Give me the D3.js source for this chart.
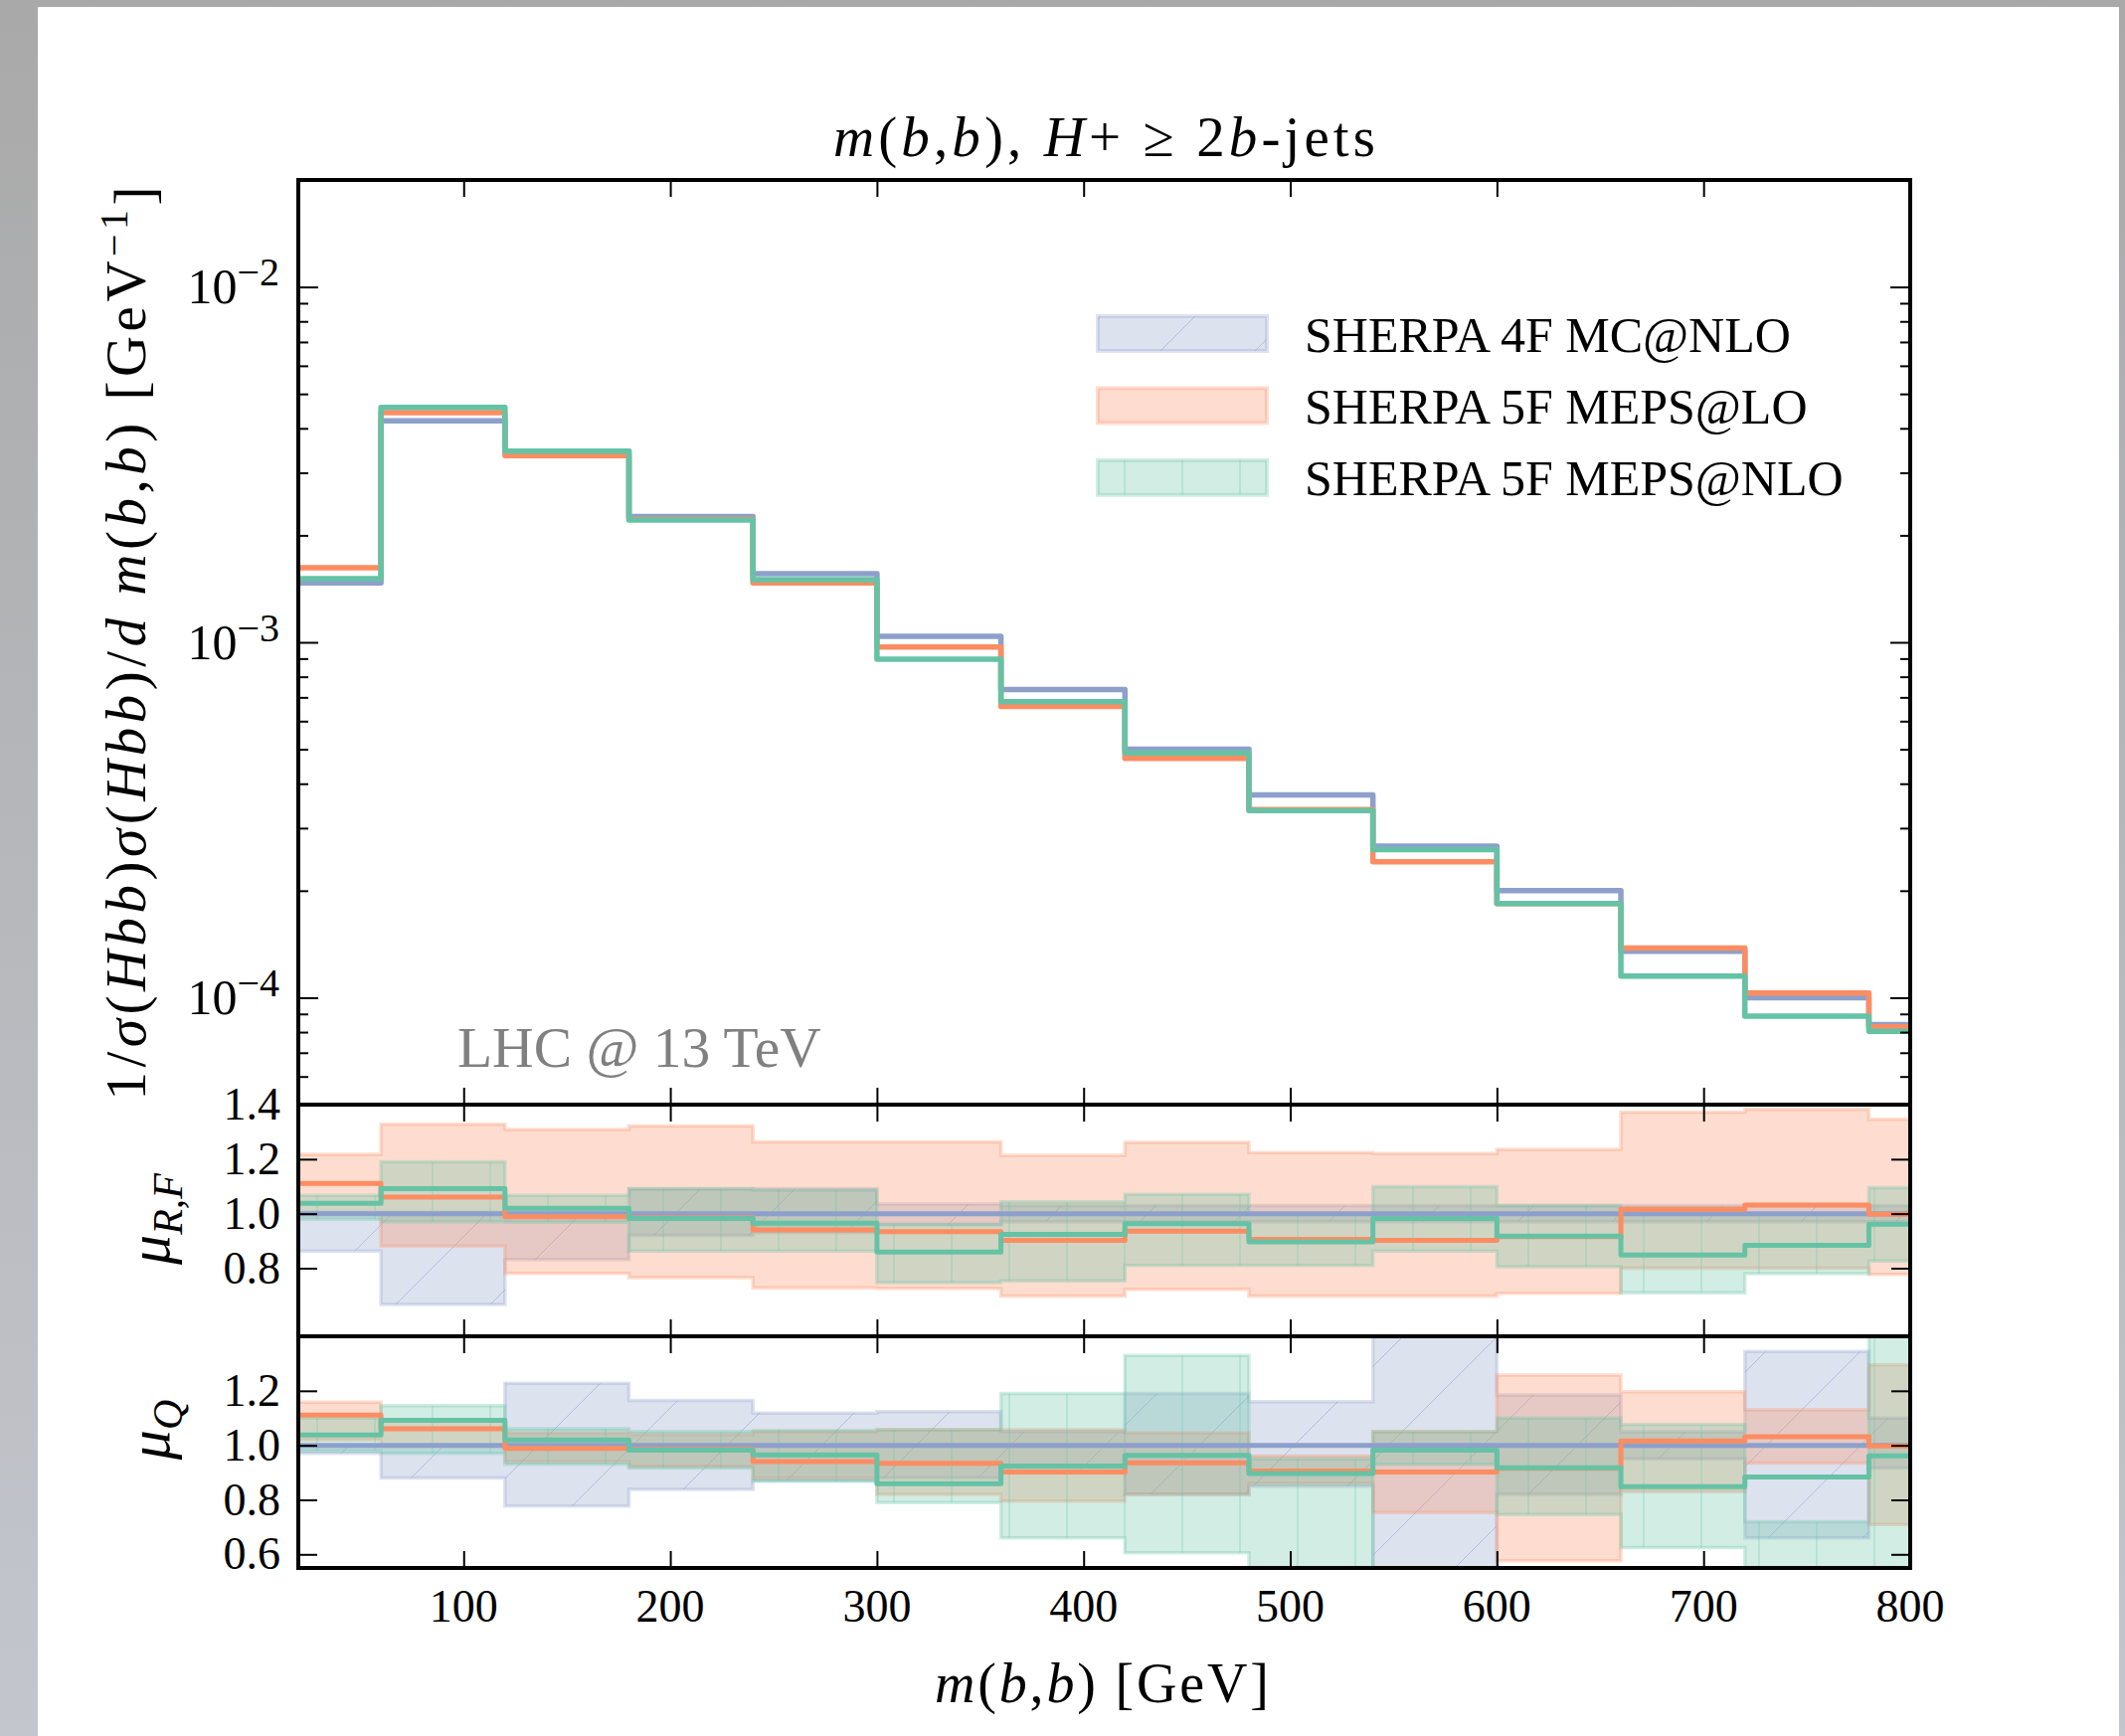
<!DOCTYPE html>
<html>
<head>
<meta charset="utf-8">
<script src="https://cdnjs.cloudflare.com/ajax/libs/d3/7.8.5/d3.min.js"></script>
<style>
  body { margin: 0; background: #fff; }
  svg { display: block; }
  text { font-family: "Liberation Serif", "DejaVu Serif", serif; fill: #000; }
</style>
</head>
<body>
<svg id="chart" width="2137" height="1746"></svg>
<script>
// bin edges of the m(b,b) histogram [GeV]
const binEdges = [20, 60, 120, 180, 240, 300, 360, 420, 480, 540, 600, 660, 720, 780, 800];
const xTicks = [100, 200, 300, 400, 500, 600, 700, 800];

const seriesNames = ["SHERPA 4F MC@NLO", "SHERPA 5F MEPS@LO", "SHERPA 5F MEPS@NLO"];
const seriesColors = ["#8da0cb", "#fc8d62", "#66c2a5"];

// main panel: normalised distribution
const main4F = [1.47e-3, 4.2e-3, 3.45e-3, 2.26e-3, 1.56e-3, 1.04e-3, 7.36e-4, 5.0e-4, 3.72e-4, 2.67e-4, 2.0e-4, 1.35e-4, 1.0e-4, 8.4e-5];
const main5FLO = [1.62e-3, 4.43e-3, 3.35e-3, 2.22e-3, 1.47e-3, 9.7e-4, 6.6e-4, 4.71e-4, 3.38e-4, 2.41e-4, 1.84e-4, 1.38e-4, 1.03e-4, 8.28e-5];
const main5FNLO = [1.51e-3, 4.58e-3, 3.45e-3, 2.21e-3, 1.50e-3, 8.96e-4, 6.81e-4, 4.88e-4, 3.36e-4, 2.61e-4, 1.84e-4, 1.15e-4, 8.87e-5, 8.04e-5];

// ratio to 4F MC@NLO (central values)
const ratio4F = [1, 1, 1, 1, 1, 1, 1, 1, 1, 1, 1, 1, 1, 1];
const ratio5FLO = [1.111, 1.061, 0.989, 0.985, 0.94, 0.934, 0.902, 0.936, 0.906, 0.902, 0.916, 1.016, 1.032, 0.998];
const ratio5FNLO = [1.038, 1.092, 1.02, 0.982, 0.965, 0.859, 0.924, 0.963, 0.897, 0.982, 0.918, 0.848, 0.884, 0.961];

// mu_R,F variation bands
const muRF4FLo = [0.863, 0.667, 0.832, 0.92, 0.93, 0.96, 0.97, 0.97, 0.97, 0.97, 0.97, 0.97, 0.97, 0.97];
const muRF4FHi = [1.005, 1.005, 1.005, 1.09, 1.092, 1.035, 1.03, 1.03, 1.03, 1.03, 1.03, 1.03, 1.03, 1.03];
const muRFLOLo = [1.0, 0.881, 0.781, 0.765, 0.728, 0.725, 0.698, 0.722, 0.698, 0.698, 0.708, 0.80, 0.80, 0.777];
const muRFLOHi = [1.218, 1.328, 1.309, 1.322, 1.263, 1.263, 1.214, 1.261, 1.224, 1.220, 1.236, 1.372, 1.383, 1.346];
const muRFNLOLo = [0.98, 0.97, 0.969, 0.863, 0.863, 0.747, 0.753, 0.81, 0.81, 0.863, 0.805, 0.71, 0.78, 0.826];
const muRFNLOHi = [1.067, 1.19, 1.067, 1.092, 1.086, 0.96, 1.043, 1.071, 1.0, 1.099, 1.03, 1.02, 1.0, 1.095];

// mu_Q variation bands
const muQ4FLo = [0.97, 0.88, 0.777, 0.838, 0.87, 0.88, 0.9, 0.82, 0.85, 0.5, 0.82, 0.95, 0.66, 0.917];
const muQ4FHi = [1.0, 1.0, 1.228, 1.165, 1.118, 1.124, 1.05, 1.19, 1.16, 1.5, 1.185, 1.05, 1.344, 1.1];
const muQLOLo = [1.02, 1.0, 0.94, 0.923, 0.88, 0.82, 0.795, 0.82, 0.86, 0.753, 0.576, 0.83, 0.935, 0.71];
const muQLOHi = [1.158, 1.09, 1.045, 1.04, 1.05, 1.057, 1.057, 1.045, 0.96, 1.051, 1.258, 1.197, 1.13, 1.295];
const muQNLOLo = [0.98, 0.97, 0.93, 0.917, 0.868, 0.79, 0.66, 0.606, 0.5, 0.93, 0.746, 0.625, 0.5, 0.5];
const muQNLOHi = [1.10, 1.146, 1.061, 1.051, 1.054, 1.057, 1.19, 1.33, 0.95, 1.05, 1.10, 1.076, 0.72, 1.45];

const svg = d3.select("#chart");

// page background (viewer frame)
const defs = svg.append("defs");
const bgGrad = defs.append("linearGradient").attr("id", "side").attr("x1", 0).attr("y1", 0).attr("x2", 0).attr("y2", 1);
bgGrad.append("stop").attr("offset", 0).attr("stop-color", "#a9a9a9");
bgGrad.append("stop").attr("offset", 1).attr("stop-color", "#c3c6cd");
svg.append("rect").attr("width", 2137).attr("height", 1746).attr("fill", "url(#side)");
svg.append("rect").attr("x", 38).attr("y", 7).attr("width", 2131 - 38).attr("height", 1746 - 7).attr("fill", "#fff");

// hatch patterns
defs.append("pattern").attr("id", "hatch-blue").attr("patternUnits", "userSpaceOnUse")
  .attr("width", 95).attr("height", 95)
  .append("path").attr("d", "M0,95 L95,0 M-10,10 L10,-10 M85,105 L105,85")
  .attr("stroke", "#8da0cb").attr("stroke-opacity", 0.55).attr("stroke-width", 1);
defs.append("pattern").attr("id", "hatch-green").attr("patternUnits", "userSpaceOnUse")
  .attr("width", 58).attr("height", 58)
  .append("path").attr("d", "M29,0 L29,58")
  .attr("stroke", "#66c2a5").attr("stroke-opacity", 0.5).attr("stroke-width", 1);
const hatches = ["url(#hatch-blue)", null, "url(#hatch-green)"];

const left = 300, right = 1921;
const x = d3.scaleLinear().domain([20, 800]).range([left, right]);
const yMain = d3.scaleLog().domain([5e-5, 2e-2]).range([1111, 181]);
const yR1 = d3.scaleLinear().domain([0.55, 1.4]).range([1344, 1111]);
const yR2 = d3.scaleLinear().domain([0.55, 1.4]).range([1577, 1344]);

const panels = [
  { id: "main", y: yMain, top: 181, bottom: 1111 },
  { id: "r1", y: yR1, top: 1111, bottom: 1344 },
  { id: "r2", y: yR2, top: 1344, bottom: 1577 }
];

panels.forEach(p => {
  defs.append("clipPath").attr("id", "clip-" + p.id)
    .append("rect").attr("x", left).attr("y", p.top)
    .attr("width", right - left).attr("height", p.bottom - p.top);
});

// step helpers
const stepPoints = vals => vals.map((v, i) => [binEdges[i], v]).concat([[binEdges[binEdges.length - 1], vals[vals.length - 1]]]);
const bandPoints = (lo, hi) => lo.map((v, i) => [binEdges[i], v, hi[i]]).concat([[binEdges[binEdges.length - 1], lo[lo.length - 1], hi[hi.length - 1]]]);

function drawLines(g, y, list, width) {
  const line = d3.line().x(d => x(d[0])).y(d => y(d[1])).curve(d3.curveStepAfter);
  list.forEach((vals, i) => {
    g.append("path")
      .attr("d", line(stepPoints(vals)))
      .attr("fill", "none")
      .attr("stroke", seriesColors[i])
      .attr("stroke-width", width)
      .attr("stroke-linejoin", "round");
  });
}

function drawBands(g, y, bands) {
  const area = d3.area().x(d => x(d[0])).y0(d => y(d[1])).y1(d => y(d[2])).curve(d3.curveStepAfter);
  bands.forEach((b, i) => {
    const d = area(bandPoints(b[0], b[1]));
    g.append("path").attr("d", d)
      .attr("fill", seriesColors[i]).attr("fill-opacity", 0.3)
      .attr("stroke", seriesColors[i]).attr("stroke-opacity", 0.3).attr("stroke-width", 3.5);
    if (hatches[i]) g.append("path").attr("d", d).attr("fill", hatches[i]);
  });
}

// main panel
const gMain = svg.append("g").attr("clip-path", "url(#clip-main)");
drawLines(gMain, yMain, [main4F, main5FLO, main5FNLO], 5.5);

// ratio panels
const gR1 = svg.append("g").attr("clip-path", "url(#clip-r1)");
drawBands(gR1, yR1, [[muRF4FLo, muRF4FHi], [muRFLOLo, muRFLOHi], [muRFNLOLo, muRFNLOHi]]);
drawLines(gR1, yR1, [ratio4F, ratio5FLO, ratio5FNLO], 5);

const gR2 = svg.append("g").attr("clip-path", "url(#clip-r2)");
drawBands(gR2, yR2, [[muQ4FLo, muQ4FHi], [muQLOLo, muQLOHi], [muQNLOLo, muQNLOHi]]);
drawLines(gR2, yR2, [ratio4F, ratio5FLO, ratio5FNLO], 5);

// ticks (inward on all sides)
function tickAxis(axis, tx, ty, size, values) {
  const g = svg.append("g").attr("transform", `translate(${tx},${ty})`)
    .call(axis.tickValues(values).tickSize(size).tickFormat(""));
  g.select(".domain").remove();
  g.selectAll(".tick line").attr("stroke", "#000").attr("stroke-width", 2);
}

panels.forEach(p => {
  tickAxis(d3.axisBottom(x), 0, p.top, 17, xTicks);
  tickAxis(d3.axisTop(x), 0, p.bottom, 17, xTicks);
});

// log ticks on main panel
const logAll = yMain.ticks();
const logMajor = logAll.filter(v => Math.abs(Math.log10(v) - Math.round(Math.log10(v))) < 1e-6);
const logMinor = logAll.filter(v => !logMajor.includes(v));
tickAxis(d3.axisRight(yMain), left, 0, 20, logMajor);
tickAxis(d3.axisRight(yMain), left, 0, 10, logMinor);
tickAxis(d3.axisLeft(yMain), right, 0, 20, logMajor);
tickAxis(d3.axisLeft(yMain), right, 0, 10, logMinor);

const r1Ticks = [0.8, 1.0, 1.2, 1.4];
const r2Ticks = [0.6, 0.8, 1.0, 1.2];
tickAxis(d3.axisRight(yR1), left, 0, 19, r1Ticks);
tickAxis(d3.axisLeft(yR1), right, 0, 19, r1Ticks);
tickAxis(d3.axisRight(yR2), left, 0, 19, r2Ticks);
tickAxis(d3.axisLeft(yR2), right, 0, 19, r2Ticks);

// frames
panels.forEach(p => {
  svg.append("rect").attr("x", left).attr("y", p.top)
    .attr("width", right - left).attr("height", p.bottom - p.top)
    .attr("fill", "none").attr("stroke", "#000").attr("stroke-width", 4);
});

// tick labels
const tickFont = 46;
xTicks.forEach(v => {
  svg.append("text").attr("x", x(v)).attr("y", 1631)
    .attr("text-anchor", "middle").attr("font-size", tickFont).text(v);
});
logMajor.forEach(v => {
  const t = svg.append("text").attr("x", 281).attr("y", yMain(v)).attr("dy", "0.33em")
    .attr("text-anchor", "end").attr("font-size", 50);
  t.append("tspan").text("10");
  t.append("tspan").attr("dy", "-0.45em").attr("font-size", "0.8em").text("\u2212" + Math.round(-Math.log10(v)));
});
r1Ticks.forEach(v => {
  svg.append("text").attr("x", 282).attr("y", yR1(v)).attr("dy", "0.33em")
    .attr("text-anchor", "end").attr("font-size", tickFont).text(v.toFixed(1));
});
r2Ticks.forEach(v => {
  svg.append("text").attr("x", 282).attr("y", yR2(v)).attr("dy", "0.33em")
    .attr("text-anchor", "end").attr("font-size", tickFont).text(v.toFixed(1));
});

// title
const title = svg.append("text").attr("x", (left + right) / 2).attr("y", 157)
  .attr("text-anchor", "middle").attr("font-size", 57)
  .attr("textLength", 545).attr("lengthAdjust", "spacing");
title.append("tspan").attr("font-style", "italic").text("m");
title.append("tspan").text("(");
title.append("tspan").attr("font-style", "italic").text("b");
title.append("tspan").text(",");
title.append("tspan").attr("font-style", "italic").text("b");
title.append("tspan").text("), ");
title.append("tspan").attr("font-style", "italic").text("H");
title.append("tspan").text("+ \u2265 2");
title.append("tspan").attr("font-style", "italic").text("b");
title.append("tspan").text("-jets");

// x label
const xl = svg.append("text").attr("x", 1108).attr("y", 1712)
  .attr("text-anchor", "middle").attr("font-size", 56)
  .attr("textLength", 336).attr("lengthAdjust", "spacing");
xl.append("tspan").attr("font-style", "italic").text("m");
xl.append("tspan").text("(");
xl.append("tspan").attr("font-style", "italic").text("b");
xl.append("tspan").text(",");
xl.append("tspan").attr("font-style", "italic").text("b");
xl.append("tspan").text(") [GeV]");

// y label main
const yl = svg.append("text").attr("transform", "translate(146,647) rotate(-90)")
  .attr("text-anchor", "middle").attr("font-size", 57)
  .attr("textLength", 919).attr("lengthAdjust", "spacing");
yl.append("tspan").text("1/");
yl.append("tspan").attr("font-style", "italic").text("\u03c3");
yl.append("tspan").text("(");
yl.append("tspan").attr("font-style", "italic").text("Hbb");
yl.append("tspan").text(")");
yl.append("tspan").attr("font-style", "italic").text("\u03c3");
yl.append("tspan").text("(");
yl.append("tspan").attr("font-style", "italic").text("Hbb");
yl.append("tspan").text(")/");
yl.append("tspan").attr("font-style", "italic").text("d m");
yl.append("tspan").text("(");
yl.append("tspan").attr("font-style", "italic").text("b");
yl.append("tspan").text(",");
yl.append("tspan").attr("font-style", "italic").text("b");
yl.append("tspan").text(") [GeV");
yl.append("tspan").attr("dy", "-0.45em").attr("font-size", "0.7em").text("\u22121");
yl.append("tspan").attr("dy", "0.45em").text("]");

// ratio labels
function muLabel(cy, sub) {
  const t = svg.append("text").attr("transform", `translate(170,${cy}) rotate(-90)`)
    .attr("text-anchor", "middle").attr("font-size", 60).attr("font-style", "italic");
  t.append("tspan").text("\u03bc");
  t.append("tspan").attr("dy", "0.3em").attr("font-size", "0.7em").text(sub);
}
muLabel(1226, "R,F");
muLabel(1438, "Q");

// legend
const legend = svg.append("g");
seriesNames.forEach((name, i) => {
  const cy = 335.5 + i * 72.4;
  legend.append("rect").attr("x", 1104).attr("y", cy - 17.5).attr("width", 170).attr("height", 35)
    .attr("fill", seriesColors[i]).attr("fill-opacity", 0.3)
    .attr("stroke", seriesColors[i]).attr("stroke-opacity", 0.3).attr("stroke-width", 4);
  if (hatches[i]) {
    legend.append("rect").attr("x", 1104).attr("y", cy - 17.5).attr("width", 170).attr("height", 35)
      .attr("fill", hatches[i]);
  }
  legend.append("text").attr("x", 1312).attr("y", cy + 18).attr("font-size", 50).text(name);
});

// energy label
svg.append("text").attr("x", 460).attr("y", 1073).attr("font-size", 57.5)
  .style("fill", "#808080").text("LHC @ 13 TeV");
</script>
</body>
</html>
